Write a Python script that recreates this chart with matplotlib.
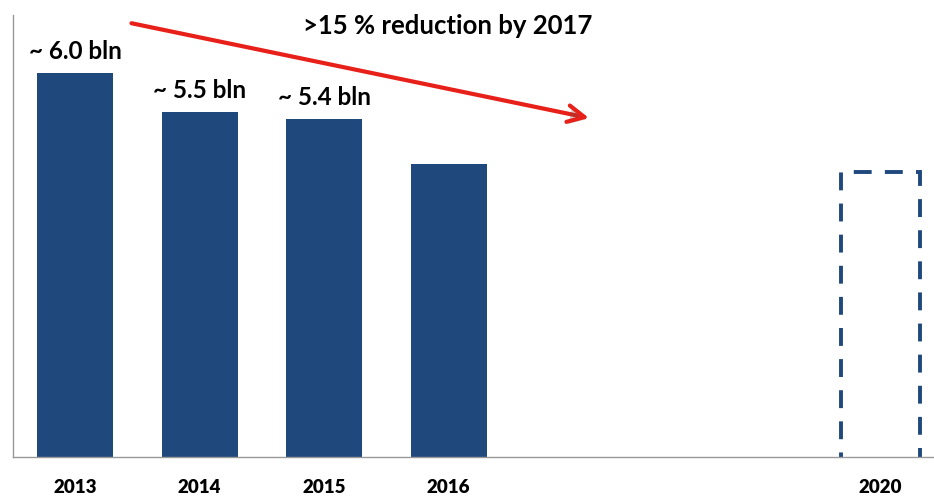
import matplotlib
matplotlib.use("Agg")
import matplotlib.pyplot as plt
import matplotlib.patheffects as pe

# budget per year, bln
years = ["2013", "2014", "2015", "2016"]
spend = [6.0, 5.5, 5.4, 4.82]
value_labels = ["~ 6.0 bln", "~ 5.5 bln", "~ 5.4 bln", None]
target_year = "2020"
target_spend = 4.72

blue = "#1F497D"
plt.rcParams["font.family"] = ["Lato", "DejaVu Sans"]

fig = plt.figure(figsize=(9.34, 4.96), dpi=100)
ax = fig.add_axes([13 / 934, 39 / 496, 921 / 934, 442 / 496])

pos = list(range(len(years)))
target_pos = 6.47

bars = ax.bar(pos, spend, width=0.61, bottom=0, color=blue, zorder=2)
ax.bar([target_pos], [target_spend], width=0.64, color="none",
       edgecolor=blue, linewidth=2.8, linestyle=(0, (4.6, 3.4)), zorder=2)

for b, lab in zip(bars, value_labels):
    if lab:
        ax.text(b.get_x() + b.get_width() / 2, b.get_height() + 0.13, lab,
                ha="center", va="bottom", fontsize=17.5, fontweight="bold")

ax.set_xlim(-0.5, 6.9)
ax.set_ylim(1.0, 6.76)
ax.set_xticks(pos + [target_pos])
ax.set_xticklabels(years + [target_year], fontsize=13.5, fontweight="heavy")
ax.tick_params(axis="x", length=0, pad=16)
ax.set_yticks([])

for s in ["top", "right"]:
    ax.spines[s].set_visible(False)
ax.spines["left"].set_color("#999999")
ax.spines["bottom"].set_color("#999999")
ax.spines["left"].set_linewidth(1.0)
ax.spines["bottom"].set_linewidth(1.0)

# trend arrow
ax.annotate("", xy=(4.15, 5.41), xytext=(0.43, 6.66),
            arrowprops=dict(arrowstyle="->,head_length=1.2,head_width=0.6",
                            color="#E8201A", lw=3,
                            path_effects=[pe.SimplePatchShadow(offset=(1.5, -1.5), alpha=0.25),
                                          pe.Normal()]))
ax.text(2.99, 6.62, ">15 % reduction by 2017", ha="center", va="center",
        fontsize=18.5, fontweight="bold")

fig.savefig("out.png", dpi=100)
